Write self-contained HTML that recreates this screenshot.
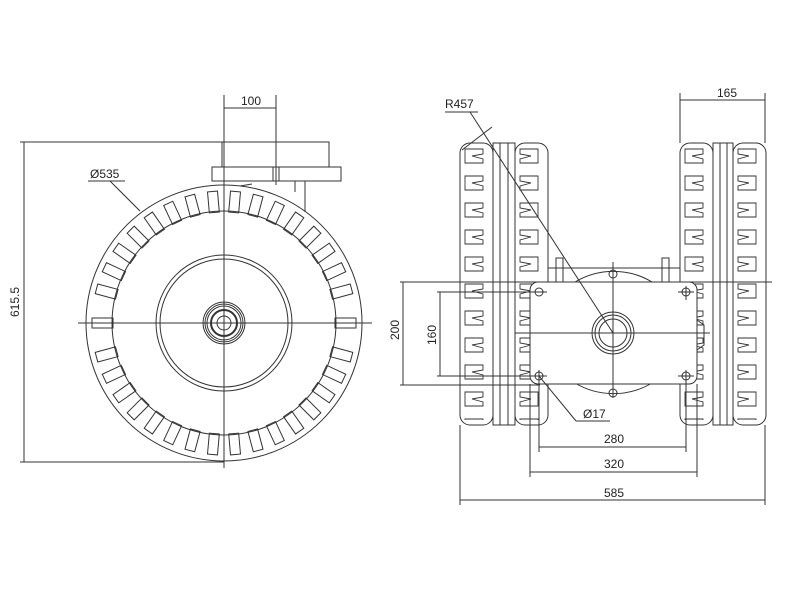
<!DOCTYPE html>
<html><head><meta charset="utf-8"><style>
html,body{margin:0;padding:0;background:#fff}
svg{display:block}
text{font-family:"Liberation Sans",sans-serif;font-size:12px;fill:#222}
</style></head><body>
<svg width="800" height="600" viewBox="0 0 800 600" xmlns="http://www.w3.org/2000/svg">
<defs>
<rect id="slot" x="219" y="191" width="10" height="21" fill="none" stroke="#333" stroke-width="1"/>
<pattern id="lugA" x="461" y="145" width="30" height="27" patternUnits="userSpaceOnUse">
<path d="M4 4 L22 4 L22 9 L11 11 L22 14 L22 18 L4 18 Z" fill="none" stroke="#333" stroke-width="0.9"/>
</pattern>
<pattern id="lugB" x="516" y="145" width="30" height="27" patternUnits="userSpaceOnUse">
<path d="M4 4 L22 4 L22 18 L4 18 L4 14 L15 11 L4 9 Z" fill="none" stroke="#333" stroke-width="0.9"/>
</pattern>
<pattern id="lugC" x="681" y="145" width="30" height="27" patternUnits="userSpaceOnUse">
<path d="M4 4 L22 4 L22 9 L11 11 L22 14 L22 18 L4 18 Z" fill="none" stroke="#333" stroke-width="0.9"/>
</pattern>
<pattern id="lugD" x="734" y="145" width="30" height="27" patternUnits="userSpaceOnUse">
<path d="M4 4 L22 4 L22 18 L4 18 L4 14 L15 11 L4 9 Z" fill="none" stroke="#333" stroke-width="0.9"/>
</pattern>
</defs>
<g fill="none" stroke="#333" stroke-width="1">
<!-- LEFT VIEW -->
<rect x="222" y="142" width="107" height="25"/>
<rect x="212" y="167" width="129" height="14"/>
<line x1="305" y1="181" x2="305" y2="212"/>
<line x1="295" y1="181" x2="295" y2="192"/>
<rect x="273" y="167" width="6" height="14"/>
<circle cx="224" cy="323" r="138"/>
<circle cx="224" cy="323" r="112"/>
<circle cx="224" cy="323" r="68"/>
<circle cx="224" cy="323" r="64"/>
<circle cx="224" cy="323" r="21"/>
<circle cx="224" cy="323" r="19"/>
<circle cx="224" cy="323" r="17"/>
<circle cx="224" cy="323" r="13" stroke-width="2"/>
<circle cx="224" cy="323" r="7"/>
<g>
<use href="#slot" transform="rotate(5 224 323)"/><use href="#slot" transform="rotate(15 224 323)"/>
<use href="#slot" transform="rotate(25 224 323)"/><use href="#slot" transform="rotate(35 224 323)"/>
<use href="#slot" transform="rotate(45 224 323)"/><use href="#slot" transform="rotate(55 224 323)"/>
<use href="#slot" transform="rotate(65 224 323)"/><use href="#slot" transform="rotate(75 224 323)"/>
<use href="#slot" transform="rotate(90 224 323)"/><use href="#slot" transform="rotate(105 224 323)"/>
<use href="#slot" transform="rotate(115 224 323)"/><use href="#slot" transform="rotate(125 224 323)"/>
<use href="#slot" transform="rotate(135 224 323)"/><use href="#slot" transform="rotate(145 224 323)"/>
<use href="#slot" transform="rotate(155 224 323)"/><use href="#slot" transform="rotate(165 224 323)"/>
<use href="#slot" transform="rotate(175 224 323)"/><use href="#slot" transform="rotate(185 224 323)"/>
<use href="#slot" transform="rotate(195 224 323)"/><use href="#slot" transform="rotate(205 224 323)"/>
<use href="#slot" transform="rotate(215 224 323)"/><use href="#slot" transform="rotate(225 224 323)"/>
<use href="#slot" transform="rotate(235 224 323)"/><use href="#slot" transform="rotate(245 224 323)"/>
<use href="#slot" transform="rotate(255 224 323)"/><use href="#slot" transform="rotate(270 224 323)"/>
<use href="#slot" transform="rotate(285 224 323)"/><use href="#slot" transform="rotate(295 224 323)"/>
<use href="#slot" transform="rotate(305 224 323)"/><use href="#slot" transform="rotate(315 224 323)"/>
<use href="#slot" transform="rotate(325 224 323)"/><use href="#slot" transform="rotate(335 224 323)"/>
<use href="#slot" transform="rotate(345 224 323)"/><use href="#slot" transform="rotate(355 224 323)"/>
</g>
<line x1="78" y1="323" x2="372" y2="323"/>
<line x1="224" y1="95" x2="224" y2="468"/>
<line x1="276" y1="95" x2="276" y2="185"/>
<line x1="224" y1="108" x2="276" y2="108"/>
<line x1="20" y1="142" x2="222" y2="142"/>
<line x1="20" y1="462" x2="224" y2="462"/>
<line x1="24" y1="142" x2="24" y2="462"/>
<line x1="88" y1="181" x2="125" y2="181"/>
<line x1="110" y1="181" x2="140" y2="211"/>
<line x1="240" y1="186" x2="252" y2="184"/>

<!-- RIGHT VIEW tires -->
<rect x="460" y="143" width="33" height="282" rx="10"/>
<rect x="493" y="143" width="22" height="282"/>
<line x1="500" y1="143" x2="500" y2="425"/><line x1="508" y1="143" x2="508" y2="425"/>
<rect x="515" y="143" width="33" height="282" rx="10"/>
<rect x="680" y="143" width="33" height="282" rx="10"/>
<rect x="713" y="143" width="20" height="282"/>
<line x1="720" y1="143" x2="720" y2="425"/><line x1="727" y1="143" x2="727" y2="425"/>
<rect x="733" y="143" width="33" height="282" rx="10"/>
<rect x="461" y="148" width="30" height="272" fill="url(#lugA)" stroke="none"/>
<rect x="516" y="148" width="30" height="272" fill="url(#lugB)" stroke="none"/>
<rect x="681" y="148" width="30" height="272" fill="url(#lugC)" stroke="none"/>
<rect x="734" y="148" width="30" height="272" fill="url(#lugD)" stroke="none"/>
<!-- gearbox -->
<rect x="548" y="268" width="132" height="14"/>
<rect x="556" y="258" width="7" height="24"/>
<rect x="662" y="258" width="7" height="24"/>
<path d="M575 282 A75 75 0 0 1 652 282"/>
<path d="M575 383 A75 75 0 0 0 652 383"/>
<rect x="530" y="282" width="167" height="102" rx="8" fill="#fff"/>
<circle cx="539" cy="292" r="4"/><circle cx="686" cy="292" r="4"/>
<circle cx="539" cy="376" r="4"/><circle cx="686" cy="376" r="4"/>
<circle cx="613" cy="274" r="4"/><circle cx="613" cy="393" r="4"/>
<circle cx="613" cy="333" r="21"/><circle cx="613" cy="333" r="18"/><circle cx="613" cy="333" r="14"/>
<path d="M697 320 L704 325 L704 345 L697 350"/>
<line x1="450" y1="282" x2="772" y2="282"/>
<line x1="515" y1="333" x2="710" y2="333"/>
<line x1="613" y1="262" x2="613" y2="398"/>
<line x1="530" y1="292" x2="547" y2="292"/><line x1="678" y1="292" x2="694" y2="292"/>
<line x1="678" y1="376" x2="694" y2="376"/>
<line x1="686" y1="286" x2="686" y2="300"/><line x1="686" y1="370" x2="686" y2="384"/>
<!-- dims right -->
<line x1="680" y1="93" x2="680" y2="143"/><line x1="765" y1="93" x2="765" y2="143"/>
<line x1="680" y1="100" x2="765" y2="100"/>
<line x1="445" y1="112" x2="478" y2="112"/>
<line x1="470" y1="112" x2="613" y2="333"/>
<line x1="462" y1="150" x2="492" y2="127"/>
<line x1="400" y1="282" x2="450" y2="282"/>
<line x1="400" y1="385" x2="540" y2="385"/>
<line x1="403" y1="282" x2="403" y2="385"/>
<line x1="437" y1="292" x2="547" y2="292"/>
<line x1="437" y1="376" x2="547" y2="376"/>
<line x1="440" y1="292" x2="440" y2="376"/>
<line x1="539" y1="370" x2="539" y2="452"/>
<line x1="686" y1="384" x2="686" y2="452"/>
<line x1="539" y1="447" x2="686" y2="447"/>
<line x1="530" y1="384" x2="530" y2="477"/>
<line x1="697" y1="384" x2="697" y2="477"/>
<line x1="530" y1="472" x2="697" y2="472"/>
<line x1="460" y1="425" x2="460" y2="505"/>
<line x1="765" y1="425" x2="765" y2="505"/>
<line x1="460" y1="500" x2="765" y2="500"/>
<line x1="539" y1="376" x2="576" y2="421"/>
<line x1="576" y1="421" x2="610" y2="421"/>
</g>
<text x="241" y="105">100</text>
<text x="90" y="178">Ø535</text>
<text transform="translate(19 302) rotate(-90)" text-anchor="middle">615.5</text>
<text x="445" y="108">R457</text>
<text x="717" y="97">165</text>
<text transform="translate(399 330) rotate(-90)" text-anchor="middle">200</text>
<text transform="translate(436 335) rotate(-90)" text-anchor="middle">160</text>
<text x="583" y="418">Ø17</text>
<text x="604" y="443">280</text>
<text x="604" y="468">320</text>
<text x="604" y="497">585</text>
</svg>
</body></html>
